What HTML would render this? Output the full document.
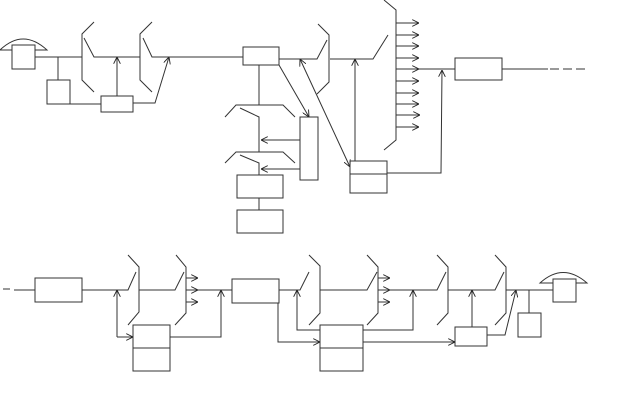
<!DOCTYPE html>
<html><head><meta charset="utf-8"><style>html,body{margin:0;padding:0;background:#fff;width:642px;height:411px;overflow:hidden}</style></head>
<body>
<svg width="642" height="411" viewBox="0 0 642 411" xmlns="http://www.w3.org/2000/svg">
<defs>
<marker id="a" viewBox="0 0 10 10" refX="10" refY="5" markerWidth="7" markerHeight="7" orient="auto-start-reverse" markerUnits="userSpaceOnUse"><path d="M0,0 L10,5 L0,10" fill="none" stroke="#222" stroke-width="1.3"/></marker>
</defs>
<g fill="none" stroke="#333" stroke-width="1">
<!-- TOP -->
<path d="M0,50 Q23,28 47,50 Z"/>
<rect x="12" y="45" width="23" height="24" fill="#fff"/>
<path d="M35,57 H82 M58,57 V80"/>
<rect x="47" y="80" width="23" height="24"/>
<path d="M70,104 H101"/>
<rect x="101" y="96" width="32" height="16"/>
<path d="M117,96 V57" marker-end="url(#a)"/>
<path d="M133,103 H155 L169,57" marker-end="url(#a)"/>
<path d="M94,22 L82,34 V80 L94,92 M84,38 L94,57 H140"/>
<path d="M152,22 L140,34 V80 L152,92 M143,38 L152,57 H243"/>
<rect x="243" y="47" width="36" height="18"/>
<path d="M259,65 V105 M225,117 L236,105 H283 L295,117 M240,108 L259,117 V152 M225,163 L236,152 H283 L295,163 M240,155 L259,163 V175"/>
<rect x="300" y="117" width="18" height="63"/>
<path d="M300,140 H261" marker-end="url(#a)"/>
<path d="M300,169 H261" marker-end="url(#a)"/>
<rect x="237" y="175" width="46" height="23"/>
<path d="M259,198 V210"/>
<rect x="237" y="210" width="46" height="23"/>
<path d="M279,65 L309,117" marker-end="url(#a)"/>
<path d="M279,59 H317 L327,40"/>
<path d="M318,24 L329,35 V82 L317,94"/>
<path d="M300,59 L350,167" marker-end="url(#a)" marker-start="url(#a)"/>
<rect x="350" y="161" width="37" height="32"/>
<path d="M350,174 H387"/>
<path d="M355,161 V59" marker-end="url(#a)"/>
<path d="M330,59 H373 L388,35"/>
<path d="M384,0 L396,10 V140 L384,150"/>
<g>
<path d="M396,23 H419" marker-end="url(#a)"/>
<path d="M396,35 H419" marker-end="url(#a)"/>
<path d="M396,46 H419" marker-end="url(#a)"/>
<path d="M396,58 H419" marker-end="url(#a)"/>
<path d="M396,69 H419" marker-end="url(#a)"/>
<path d="M396,81 H419" marker-end="url(#a)"/>
<path d="M396,93 H419" marker-end="url(#a)"/>
<path d="M396,104 H419" marker-end="url(#a)"/>
<path d="M396,115 H420" marker-end="url(#a)"/>
<path d="M396,127 H419" marker-end="url(#a)"/>
</g>
<path d="M419,69 H455"/>
<rect x="455" y="58" width="47" height="22"/>
<path d="M502,69 H548"/>
<path d="M550,69 H588" stroke-dasharray="9,4"/>
<path d="M387,173 H441 L442,70" marker-end="url(#a)"/>
<!-- BOTTOM -->
<path d="M3,289 H10 M14,290 H35"/>
<rect x="35" y="278" width="47" height="24"/>
<path d="M82,290 H128 L136,272"/>
<path d="M128,255 L139,267 V312 L128,325"/>
<path d="M139,290 H175 L184,272"/>
<path d="M176,255 L186,267 V313 L175,325"/>
<path d="M186,278 H198" marker-end="url(#a)"/>
<path d="M186,290 H198" marker-end="url(#a)"/>
<path d="M186,302 H198" marker-end="url(#a)"/>
<path d="M117,337 V290" marker-end="url(#a)"/>
<path d="M117,337 H133" marker-end="url(#a)"/>
<rect x="133" y="325" width="37" height="46"/>
<path d="M133,348 H170"/>
<path d="M170,337 H221 V290" marker-end="url(#a)"/>
<path d="M198,290 H232"/>
<rect x="232" y="279" width="47" height="24"/>
<path d="M279,290 H300 L309,272"/>
<path d="M320,330 H297 V290" marker-end="url(#a)"/>
<path d="M309,255 L320,266 V313 L309,325"/>
<path d="M278,303 V342 H320" marker-end="url(#a)"/>
<rect x="320" y="325" width="43" height="46"/>
<path d="M320,348 H363"/>
<path d="M320,290 H367 L377,272"/>
<path d="M367,255 L378,267 V313 L367,325"/>
<path d="M378,278 H390" marker-end="url(#a)"/>
<path d="M378,290 H390" marker-end="url(#a)"/>
<path d="M378,302 H390" marker-end="url(#a)"/>
<path d="M378,290 H437 L446,272"/>
<path d="M363,330 H413 V290" marker-end="url(#a)"/>
<path d="M437,255 L448,267 V313 L437,325"/>
<path d="M448,290 H495 L504,272"/>
<rect x="455" y="327" width="32" height="19"/>
<path d="M472,327 V290" marker-end="url(#a)"/>
<path d="M363,342 H455" marker-end="url(#a)"/>
<path d="M487,335 H505 L516,290" marker-end="url(#a)"/>
<path d="M495,255 L506,267 V313 L495,325"/>
<path d="M506,290 H553 M529,290 V313"/>
<rect x="518" y="313" width="23" height="24"/>
<path d="M540,283 Q563,262 587,283 Z"/>
<rect x="553" y="279" width="23" height="23" fill="#fff"/>
</g>
</svg>
</body></html>
